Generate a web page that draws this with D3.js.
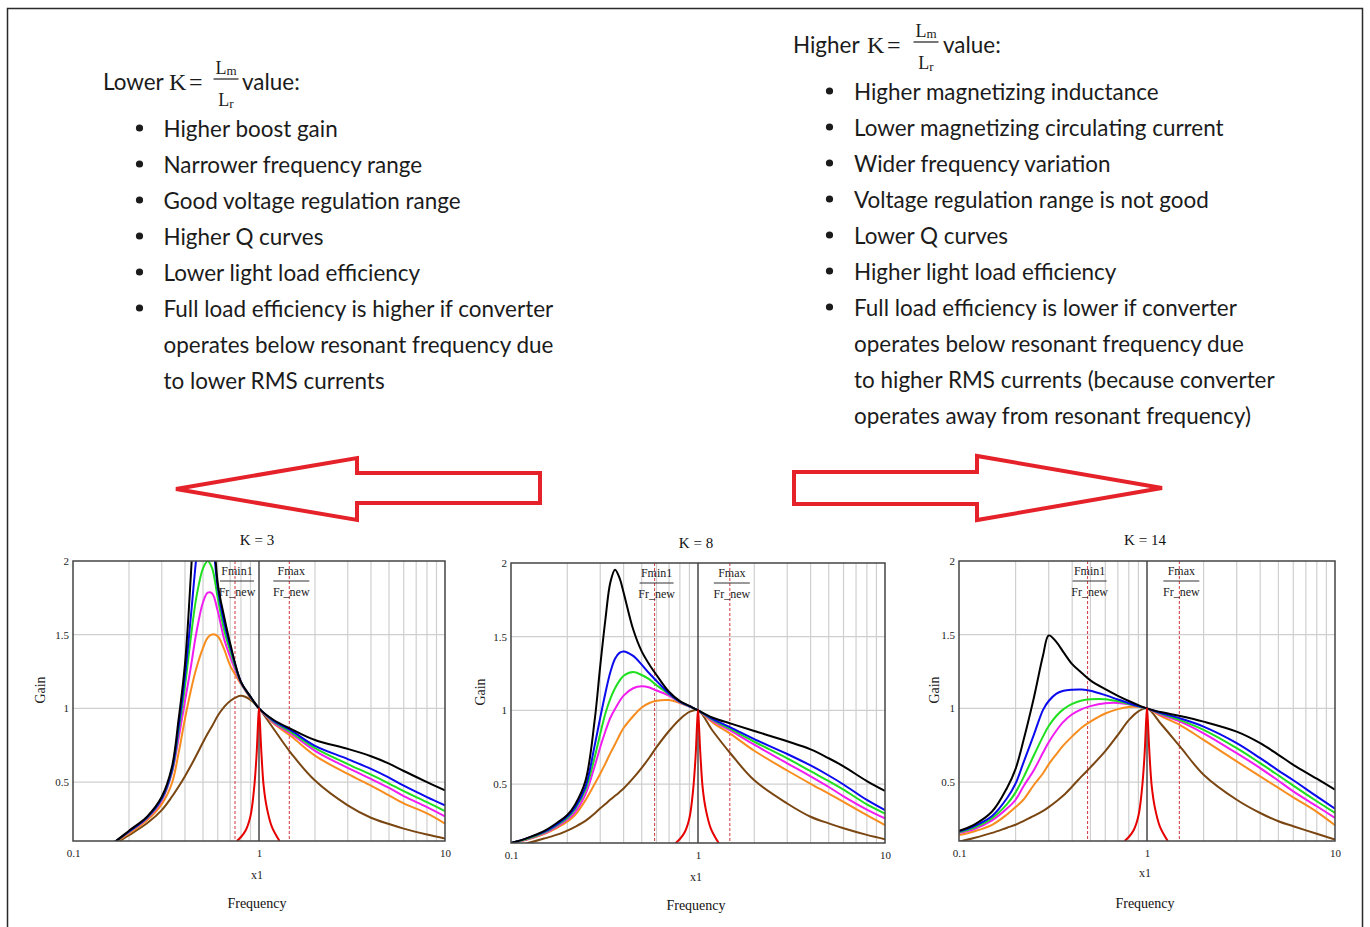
<!DOCTYPE html>
<html>
<head>
<meta charset="utf-8">
<script src="https://cdn.jsdelivr.net/npm/d3@7"></script>
<style>
  body { margin: 0; background: #fff; }
  svg { display: block; }
</style>
</head>
<body>
<div id="figure"></div>
<script>
// ---- data ----
// normalized frequency grids, one per K plot
const freqK3 = [0.15, 0.17, 0.2, 0.25, 0.3, 0.34, 0.37, 0.4, 0.43, 0.46, 0.5, 0.53, 0.56, 0.6, 0.65, 0.7, 0.8, 0.9, 1, 1.2, 1.5, 2, 3, 4, 5, 6, 8, 10];
const freqK8 = [0.1, 0.12, 0.15, 0.18, 0.2, 0.22, 0.25, 0.28, 0.3, 0.32, 0.34, 0.36, 0.38, 0.4, 0.45, 0.5, 0.55, 0.6, 0.7, 0.8, 0.9, 1, 1.2, 1.5, 2, 3, 4, 5, 6, 8, 10];
const freqK14 = [0.1, 0.12, 0.15, 0.18, 0.2, 0.22, 0.25, 0.28, 0.3, 0.33, 0.36, 0.4, 0.45, 0.5, 0.6, 0.7, 0.8, 0.9, 1, 1.2, 1.5, 2, 3, 4, 5, 6, 8, 10];

// K = 3 gain curves (black / blue / green / magenta / orange / brown)
const black3 = [0.06, 0.1, 0.17, 0.265, 0.4, 0.6, 0.93, 1.3, 1.9, 2.6, 3.2, 3.0, 2.4, 1.85, 1.62, 1.44, 1.18, 1.08, 1, 0.921, 0.858, 0.785, 0.725, 0.675, 0.625, 0.575, 0.5, 0.443];
const blue3 = [0.06, 0.1, 0.165, 0.26, 0.39, 0.58, 0.88, 1.22, 1.62, 2.02, 2.4, 2.45, 2.2, 1.82, 1.58, 1.42, 1.18, 1.078, 1, 0.915, 0.847, 0.746, 0.656, 0.589, 0.53, 0.475, 0.398, 0.342];
const green3 = [0.06, 0.1, 0.163, 0.257, 0.385, 0.57, 0.85, 1.15, 1.48, 1.75, 1.95, 2.0, 1.95, 1.75, 1.53, 1.39, 1.175, 1.076, 1, 0.91, 0.836, 0.73, 0.622, 0.55, 0.49, 0.438, 0.364, 0.303];
const magenta3 = [0.06, 0.1, 0.16, 0.252, 0.375, 0.56, 0.8, 1.05, 1.28, 1.51, 1.72, 1.785, 1.78, 1.66, 1.47, 1.35, 1.17, 1.074, 1, 0.903, 0.825, 0.712, 0.596, 0.521, 0.46, 0.405, 0.33, 0.267];
const orange3 = [0.06, 0.095, 0.151, 0.24, 0.35, 0.49, 0.7, 0.93, 1.12, 1.27, 1.41, 1.48, 1.502, 1.49, 1.4, 1.29, 1.165, 1.07, 1, 0.897, 0.807, 0.679, 0.555, 0.476, 0.41, 0.355, 0.287, 0.218];
const brown3 = [0.05, 0.085, 0.14, 0.22, 0.31, 0.4, 0.47, 0.54, 0.61, 0.68, 0.77, 0.83, 0.88, 0.95, 1.01, 1.05, 1.085, 1.058, 1, 0.86, 0.69, 0.51, 0.342, 0.258, 0.215, 0.184, 0.144, 0.117];

// K = 8
const black8 = [0.1, 0.13, 0.18, 0.245, 0.29, 0.36, 0.52, 0.93, 1.3, 1.62, 1.87, 1.955, 1.9, 1.8, 1.55, 1.4, 1.31, 1.24, 1.126, 1.063, 1.03, 1, 0.95, 0.91, 0.86, 0.79, 0.735, 0.675, 0.62, 0.52, 0.453];
const blue8 = [0.1, 0.13, 0.175, 0.235, 0.28, 0.34, 0.48, 0.76, 0.95, 1.12, 1.26, 1.35, 1.39, 1.4, 1.37, 1.31, 1.25, 1.2, 1.115, 1.06, 1.028, 1, 0.94, 0.883, 0.805, 0.704, 0.626, 0.558, 0.497, 0.392, 0.323];
const green8 = [0.1, 0.125, 0.17, 0.228, 0.27, 0.33, 0.46, 0.68, 0.84, 0.98, 1.08, 1.15, 1.2, 1.235, 1.26, 1.24, 1.21, 1.17, 1.11, 1.058, 1.027, 1, 0.935, 0.872, 0.787, 0.675, 0.587, 0.52, 0.462, 0.362, 0.3];
const magenta8 = [0.1, 0.122, 0.165, 0.22, 0.26, 0.31, 0.43, 0.62, 0.75, 0.86, 0.95, 1.01, 1.06, 1.1, 1.15, 1.164, 1.155, 1.135, 1.1, 1.055, 1.025, 1, 0.928, 0.861, 0.767, 0.641, 0.552, 0.48, 0.417, 0.327, 0.267];
const orange8 = [0.1, 0.12, 0.16, 0.21, 0.245, 0.29, 0.39, 0.5, 0.57, 0.64, 0.71, 0.77, 0.83, 0.88, 0.96, 1.02, 1.05, 1.065, 1.07, 1.05, 1.025, 1, 0.917, 0.839, 0.726, 0.592, 0.502, 0.435, 0.379, 0.289, 0.222];
const brown8 = [0.07, 0.095, 0.13, 0.16, 0.184, 0.21, 0.25, 0.3, 0.335, 0.365, 0.395, 0.42, 0.445, 0.47, 0.54, 0.61, 0.68, 0.75, 0.86, 0.94, 0.99, 1, 0.86, 0.704, 0.525, 0.368, 0.278, 0.233, 0.2, 0.155, 0.126];

// K = 14
const black14 = [0.17, 0.21, 0.3, 0.46, 0.59, 0.78, 1.07, 1.36, 1.495, 1.45, 1.38, 1.3, 1.24, 1.19, 1.13, 1.085, 1.05, 1.022, 1, 0.973, 0.948, 0.91, 0.842, 0.764, 0.685, 0.617, 0.523, 0.448];
const blue14 = [0.165, 0.2, 0.27, 0.39, 0.49, 0.63, 0.82, 0.99, 1.05, 1.1, 1.12, 1.127, 1.128, 1.12, 1.09, 1.06, 1.035, 1.015, 1, 0.966, 0.932, 0.876, 0.764, 0.662, 0.578, 0.512, 0.403, 0.32];
const green14 = [0.16, 0.19, 0.255, 0.35, 0.43, 0.53, 0.68, 0.81, 0.88, 0.95, 0.995, 1.03, 1.053, 1.062, 1.062, 1.048, 1.03, 1.013, 1, 0.962, 0.92, 0.854, 0.73, 0.628, 0.545, 0.476, 0.37, 0.29];
const magenta14 = [0.155, 0.18, 0.24, 0.32, 0.38, 0.47, 0.58, 0.7, 0.77, 0.85, 0.91, 0.96, 0.995, 1.015, 1.035, 1.037, 1.027, 1.012, 1, 0.955, 0.91, 0.831, 0.696, 0.595, 0.509, 0.437, 0.336, 0.257];
const orange14 = [0.14, 0.165, 0.21, 0.28, 0.33, 0.38, 0.48, 0.56, 0.62, 0.69, 0.75, 0.81, 0.87, 0.91, 0.965, 0.995, 1.01, 1.01, 1, 0.944, 0.887, 0.786, 0.64, 0.538, 0.46, 0.396, 0.298, 0.207];
const brown14 = [0.095, 0.12, 0.155, 0.19, 0.21, 0.235, 0.27, 0.305, 0.33, 0.37, 0.41, 0.47, 0.54, 0.6, 0.71, 0.82, 0.92, 0.98, 1, 0.887, 0.74, 0.55, 0.38, 0.29, 0.234, 0.2, 0.149, 0.11];

// very high Q trace (red spike), same in all three plots
const redFreq = [0.76, 0.8, 0.85, 0.9, 0.94, 0.97, 0.99, 1, 1.01, 1.03, 1.06, 1.1, 1.17, 1.29];
const redGain = [0.1, 0.127, 0.175, 0.27, 0.45, 0.68, 0.92, 1.0, 0.92, 0.7, 0.47, 0.33, 0.2, 0.1];

// Fmin1/Fr_new and Fmax/Fr_new markers, plot titles
const kTitles = ["K = 3", "K = 8", "K = 14"];
const fminRatio = [0.743, 0.586, 0.483];
const fmaxRatio = [1.455, 1.48, 1.486];

// axis ticks
const xTickValues = [0.1, 1, 10];
const yTickValues = [0.5, 1, 1.5, 2];
const gridFreqs = [0.2, 0.3, 0.4, 0.5, 0.6, 0.7, 0.8, 0.9, 2, 3, 4, 5, 6, 7, 8, 9];
const gridGains = [0.5, 1, 1.5];

// text of the two columns
const lowerBullets = ["Higher boost gain", "Narrower frequency range", "Good voltage regulation range", "Higher Q curves", "Lower light load efficiency", "Full load efficiency is higher if converter"];
const lowerWrap = ["operates below resonant frequency due", "to lower RMS currents"];
const higherBullets = ["Higher magnetizing inductance", "Lower magnetizing circulating current", "Wider frequency variation", "Voltage regulation range is not good", "Lower Q curves", "Higher light load efficiency", "Full load efficiency is lower if converter"];
const higherWrap = ["operates below resonant frequency due", "to higher RMS currents (because converter", "operates away from resonant frequency)"];

// ---- styles / layout ----
const W = 1370, H = 927;
const sansFont = "Lato, 'Open Sans', sans-serif";
const serifFont = "'Liberation Serif', 'DejaVu Serif', serif";
const textColor = "#1b1b1b";
const traceColors = ["#000000", "#0b0bee", "#1fe01f", "#f01cf0", "#f78d1e", "#7a4612"];
const arrowRed = "#e5222a";
const lineStep = 36;

const svg = d3.select("#figure").append("svg")
  .attr("width", W)
  .attr("height", H);

// page frame
svg.append("rect")
  .attr("x", 7.5).attr("y", 8.5)
  .attr("width", 1355).attr("height", 940)
  .attr("fill", "#fff")
  .attr("stroke", "#2a2a2a")
  .attr("stroke-width", 1.5);

// the slide text is squeezed horizontally, so measure and scale
function measure(str, family, size) {
  const t = svg.append("text").style("font-family", family).style("font-size", size + "px").text(str);
  const w = t.node().getComputedTextLength();
  t.remove();
  return w;
}
const sansSize = 23;
const sx = 390 / measure(lowerBullets[5], sansFont, sansSize);

function sansText(x, y, str) {
  return svg.append("text")
    .attr("transform", `translate(${x},${y}) scale(${sx},1)`)
    .style("font-family", sansFont)
    .style("font-size", sansSize + "px")
    .attr("fill", textColor)
    .text(str);
}

function serifText(x, y, str, size) {
  return svg.append("text")
    .attr("x", x).attr("y", y)
    .style("font-family", serifFont)
    .style("font-size", size + "px")
    .attr("fill", textColor)
    .text(str);
}

// Lm / Lr fraction
function drawRatio(cx, base) {
  const num = serifText(cx, base - 16.5, "", 18).attr("text-anchor", "middle");
  num.append("tspan").text("L");
  num.append("tspan").attr("dy", 1.5).style("font-size", "13px").text("m");
  svg.append("line")
    .attr("x1", cx - 12.5).attr("x2", cx + 12.5)
    .attr("y1", base - 11).attr("y2", base - 11)
    .attr("stroke", textColor).attr("stroke-width", 1.2);
  const den = serifText(cx, base + 15.5, "", 18).attr("text-anchor", "middle");
  den.append("tspan").text("L");
  den.append("tspan").attr("dy", 2).style("font-size", "13px").text("r");
}

const columns = [
  { head: "Lower", bullets: lowerBullets, wrap: lowerWrap, x: 103, base: 90, kX: 169, eqX: 189, fracX: 226, valueX: 242, dotX: 139.5, textX: 163.5, firstBase: 136.5 },
  { head: "Higher", bullets: higherBullets, wrap: higherWrap, x: 793, base: 53, kX: 867, eqX: 887, fracX: 926, valueX: 943, dotX: 829.5, textX: 854, firstBase: 99.5 },
];

columns.forEach((c) => {
  sansText(c.x, c.base, c.head);
  serifText(c.kX, c.base, "K", 24);
  serifText(c.eqX, c.base, "=", 24);
  drawRatio(c.fracX, c.base);
  sansText(c.valueX, c.base, "value:");
  c.bullets.concat(c.wrap).forEach((str, i) => {
    const base = c.firstBase + i * lineStep;
    if (i < c.bullets.length) {
      svg.append("circle")
        .attr("cx", c.dotX).attr("cy", base - 8.5)
        .attr("r", 3.6).attr("fill", textColor);
    }
    sansText(c.textX, base, str);
  });
});

// block arrows
const arrows = [
  [[176, 489], [357, 458], [357, 473], [540, 473], [540, 503], [357, 503], [357, 520]],
  [[794, 472], [977, 472], [977, 456], [1162, 488], [977, 520], [977, 504], [794, 504]],
];
svg.selectAll(".arrow")
  .data(arrows)
  .join("polygon")
  .attr("class", "arrow")
  .attr("points", (d) => d.map((p) => p.join(",")).join(" "))
  .attr("fill", "#fff")
  .attr("stroke", arrowRed)
  .attr("stroke-width", 4)
  .attr("stroke-linejoin", "miter");

// ---- the three gain plots ----
const panels = [
  { freq: freqK3, curves: [black3, blue3, green3, magenta3, orange3, brown3], left: 73, right: 445, top: 561, bottom: 841, titleBase: 545, gainX: 40, x1Base: 879, freqBase: 908 },
  { freq: freqK8, curves: [black8, blue8, green8, magenta8, orange8, brown8], left: 511, right: 885, top: 563, bottom: 843, titleBase: 548, gainX: 480, x1Base: 881, freqBase: 910 },
  { freq: freqK14, curves: [black14, blue14, green14, magenta14, orange14, brown14], left: 959, right: 1335, top: 561, bottom: 841, titleBase: 545, gainX: 934, x1Base: 877, freqBase: 908 },
];

panels.forEach((p, i) => {
  const xScale = d3.scaleLog().domain([0.1, 10]).range([p.left, p.right]);
  const yScale = d3.scaleLinear().domain([0.1, 2]).range([p.bottom, p.top]);
  const cx = (p.left + p.right) / 2 - 2;
  const g = svg.append("g");

  svg.append("clipPath").attr("id", "plot-clip-" + i)
    .append("rect")
    .attr("x", p.left).attr("y", p.top)
    .attr("width", p.right - p.left).attr("height", p.bottom - p.top);

  // grid
  g.selectAll(".vgrid").data(gridFreqs).join("line")
    .attr("x1", (d) => xScale(d)).attr("x2", (d) => xScale(d))
    .attr("y1", p.top).attr("y2", p.bottom)
    .attr("stroke", "#cfcfcf").attr("stroke-width", 1.2);
  g.selectAll(".hgrid").data(gridGains).join("line")
    .attr("x1", p.left).attr("x2", p.right)
    .attr("y1", (d) => yScale(d)).attr("y2", (d) => yScale(d))
    .attr("stroke", "#cfcfcf").attr("stroke-width", 1.2);

  // resonance marker at x = 1
  g.append("line")
    .attr("x1", xScale(1)).attr("x2", xScale(1))
    .attr("y1", p.top).attr("y2", p.bottom)
    .attr("stroke", "#3a3a3a").attr("stroke-width", 1.4);

  // fmin / fmax dashed markers
  g.selectAll(".mark").data([fminRatio[i], fmaxRatio[i]]).join("line")
    .attr("x1", (d) => xScale(d)).attr("x2", (d) => xScale(d))
    .attr("y1", p.top).attr("y2", p.bottom)
    .attr("stroke", "#d0393f").attr("stroke-width", 1)
    .attr("stroke-dasharray", "3,2");

  // fraction labels over the markers
  [["Fmin1", fminRatio[i], 17], ["Fmax", fmaxRatio[i], 18]].forEach(([name, v, half]) => {
    const lx = xScale(v) + 2;
    g.append("text").attr("x", lx).attr("y", p.top + 14)
      .attr("text-anchor", "middle")
      .style("font-family", serifFont).style("font-size", "12px")
      .attr("fill", "#222").text(name);
    g.append("line")
      .attr("x1", lx - half).attr("x2", lx + half)
      .attr("y1", p.top + 20).attr("y2", p.top + 20)
      .attr("stroke", "#333").attr("stroke-width", 1);
    g.append("text").attr("x", lx).attr("y", p.top + 35)
      .attr("text-anchor", "middle")
      .style("font-family", serifFont).style("font-size", "12px")
      .attr("fill", "#222").text("Fr_new");
  });

  // curves
  const line = d3.line()
    .x((d) => xScale(d[0]))
    .y((d) => yScale(d[1]))
    .curve(d3.curveCatmullRom.alpha(0.5));

  const traces = g.append("g").attr("clip-path", `url(#plot-clip-${i})`);
  const curveData = p.curves.map((vals, k) => ({ color: traceColors[k], pts: p.freq.map((f, j) => [f, vals[j]]) })).reverse();
  traces.selectAll(".trace").data(curveData).join("path")
    .attr("class", "trace")
    .attr("d", (d) => line(d.pts))
    .attr("fill", "none")
    .attr("stroke", (d) => d.color)
    .attr("stroke-width", 2);

  traces.append("path")
    .attr("d", line(redFreq.map((f, j) => [f, redGain[j]])))
    .attr("fill", "none")
    .attr("stroke", "#e60000")
    .attr("stroke-width", 2);

  // frame
  g.append("rect")
    .attr("x", p.left).attr("y", p.top)
    .attr("width", p.right - p.left).attr("height", p.bottom - p.top)
    .attr("fill", "none").attr("stroke", "#444").attr("stroke-width", 1.5);

  // axes
  const xAxis = g.append("g")
    .attr("transform", `translate(0,${p.bottom})`)
    .call(d3.axisBottom(xScale).tickValues(xTickValues).tickSize(0).tickPadding(8).tickFormat((d) => String(d)));
  const yAxis = g.append("g")
    .attr("transform", `translate(${p.left},0)`)
    .call(d3.axisLeft(yScale).tickValues(yTickValues).tickSize(0).tickPadding(4).tickFormat((d) => String(d)));
  [xAxis, yAxis].forEach((a) => {
    a.select(".domain").remove();
    a.selectAll("text").style("font-family", serifFont).style("font-size", "11px").attr("fill", "#222");
  });

  // labels
  g.append("text").attr("x", cx).attr("y", p.titleBase)
    .attr("text-anchor", "middle")
    .style("font-family", serifFont).style("font-size", "15px")
    .attr("fill", "#111").text(kTitles[i]);
  g.append("text").attr("x", cx).attr("y", p.x1Base)
    .attr("text-anchor", "middle")
    .style("font-family", serifFont).style("font-size", "12px")
    .attr("fill", "#222").text("x1");
  g.append("text").attr("x", cx).attr("y", p.freqBase)
    .attr("text-anchor", "middle")
    .style("font-family", serifFont).style("font-size", "14px")
    .attr("fill", "#111").text("Frequency");
  g.append("text")
    .attr("transform", `translate(${p.gainX},${(p.top + p.bottom) / 2 - 11}) rotate(-90)`)
    .attr("text-anchor", "middle")
    .attr("dy", "0.35em")
    .style("font-family", serifFont).style("font-size", "14px")
    .attr("fill", "#222").text("Gain");
});
</script>
</body>
</html>
